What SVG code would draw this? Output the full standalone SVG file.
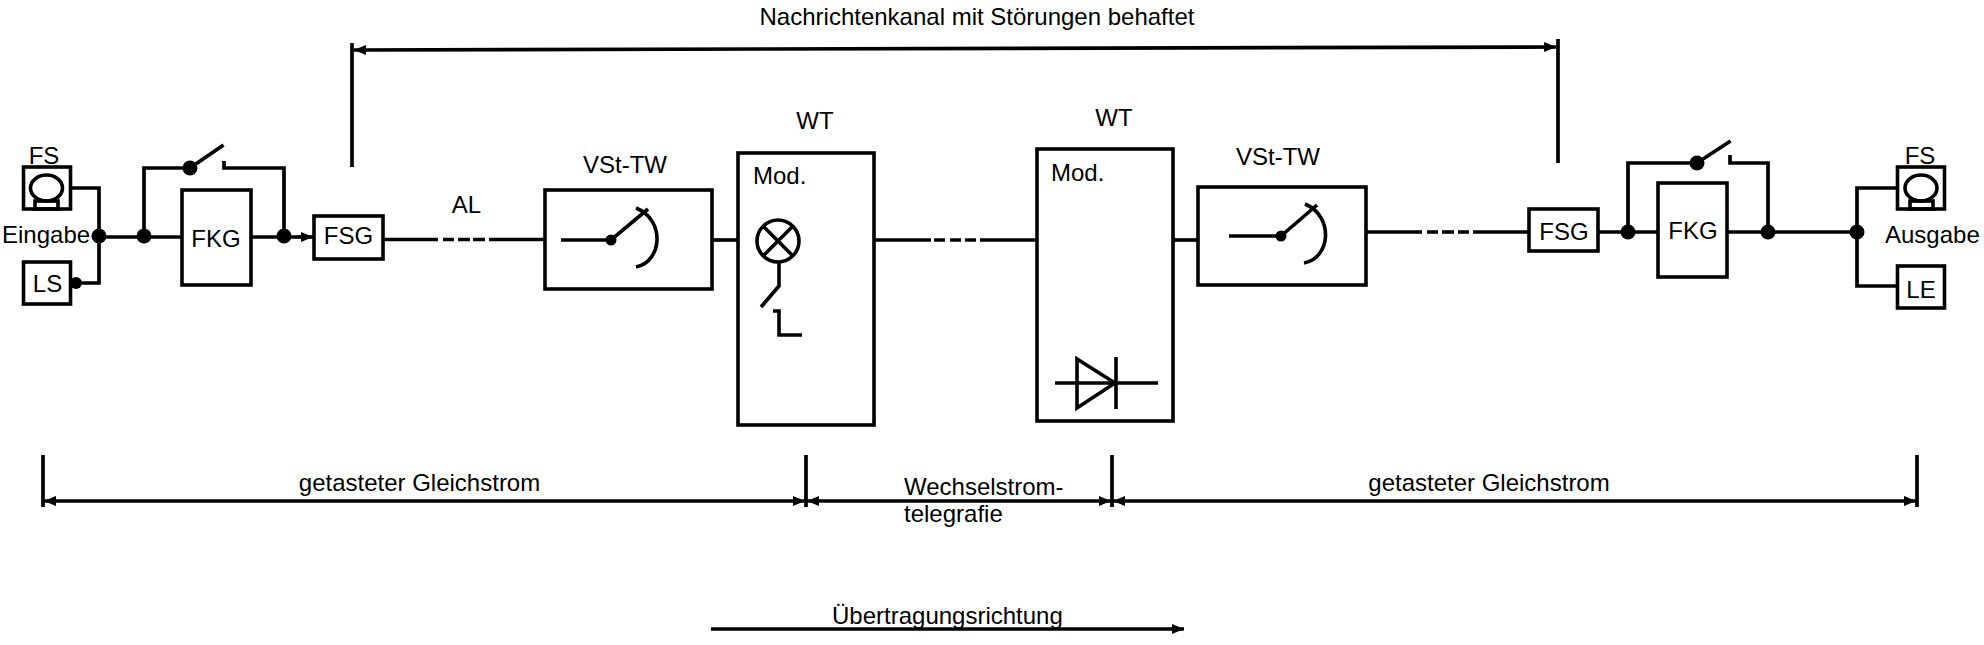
<svg xmlns="http://www.w3.org/2000/svg" width="1984" height="645" viewBox="0 0 1984 645">
<style>
text{font-family:"Liberation Sans",Arial,sans-serif;font-size:24px;fill:#000}
.b{fill:#fff;stroke:#000;stroke-width:3.6}
.s{fill:none;stroke:#000;stroke-width:3.6}
.d{fill:#000}
.c{fill:none;stroke:#000;stroke-width:3.7}
.m{text-anchor:middle}
</style>
<defs>
<marker id="ae" markerUnits="userSpaceOnUse" markerWidth="14" markerHeight="12" refX="12" refY="5" orient="auto"><path d="M0 0L12 5L0 10Z" fill="#000"/></marker>
<marker id="as" markerUnits="userSpaceOnUse" markerWidth="14" markerHeight="12" refX="0" refY="5" orient="auto"><path d="M12 0L0 5L12 10Z" fill="#000"/></marker>
</defs>
<rect width="1984" height="645" fill="#fff"/>
<g id="connectors">
<path class="c" d="M71 188H99V283H76"/>
<path class="c" d="M99 237H182"/>
<path class="c" d="M144 237V168H190"/>
<path class="c" d="M190 168L223.500 145"/>
<path class="c" d="M224 161V168H284V237"/>
<path class="c" d="M251 237H300"/>
<path class="c" d="M298 237H313" marker-end="url(#ae)"/>
<path class="c" d="M383 239.500H438M443 239.500H454M458 239.500H470M473 239.500H485M489 239.500H545"/>
<path class="c" d="M712 240H738"/>
<path class="c" d="M874 240H931M934 240H945M950 240H961M965 240H976M980 240H1037"/>
<path class="c" d="M1173 240H1198"/>
<path class="c" d="M1366 232H1422M1427 232H1438M1442 232H1454M1458 232H1469M1473 232H1529"/>
<path class="c" d="M1598 232H1658"/>
<path class="c" d="M1628 232V163H1697L1730.500 141"/>
<path class="c" d="M1730 155V163H1768V232"/>
<path class="c" d="M1727 232H1857"/>
<path class="c" d="M1897 188H1857V286H1897"/>
<path class="c" d="M352 43V167"/>
<path class="c" d="M1558 39V163"/>
<path class="c" d="M354 50L1556 47" marker-start="url(#as)" marker-end="url(#ae)"/>
<path class="c" d="M43 455V507M806 455V507M1112 455V507M1917 455V507"/>
<path class="c" d="M44 501H805" marker-start="url(#as)" marker-end="url(#ae)"/>
<path class="c" d="M807 501H1111" marker-start="url(#as)" marker-end="url(#ae)"/>
<path class="c" d="M1113 501H1916" marker-start="url(#as)" marker-end="url(#ae)"/>
<path class="c" d="M711 629H1184" marker-end="url(#ae)"/>
<circle class="d" cx="99" cy="236" r="7.500"/><circle class="d" cx="76" cy="283" r="6"/><circle class="d" cx="144" cy="236" r="7.500"/><circle class="d" cx="190" cy="168" r="7.500"/><circle class="d" cx="284" cy="236" r="7.500"/>
<circle class="d" cx="1628" cy="232" r="7.500"/><circle class="d" cx="1697" cy="163" r="7.500"/><circle class="d" cx="1768" cy="232" r="7.500"/><circle class="d" cx="1857" cy="232" r="7.500"/>
</g>
<g id="fs-in"><rect class="b" x="23.500" y="167" width="47" height="42"/><ellipse class="s" cx="46.500" cy="188" rx="16" ry="13"/><rect class="s" x="35" y="201" width="23" height="8"/><text class="m" x="44" y="164">FS</text></g>
<g id="ls-in"><rect class="b" x="23.500" y="262" width="47" height="42"/><text class="m" x="47.500" y="292">LS</text></g>
<g id="eingabe"><text x="2" y="243">Eingabe</text></g>
<g id="fkg-in"><rect class="b" x="182" y="190" width="69" height="95"/><text class="m" x="216" y="247">FKG</text></g>
<g id="fsg-in"><rect class="b" x="314" y="216" width="69" height="43"/><text class="m" x="348.500" y="244">FSG</text></g>
<g id="al"><text class="m" x="466.500" y="213">AL</text></g>
<g id="vst-in"><rect class="b" x="545" y="190" width="167" height="99"/><path class="s" d="M561 240H611L648 209"/><circle class="d" cx="611" cy="240" r="5.500"/><path class="s" d="M636 208C666 220 662 262 636 267"/><text class="m" x="625" y="173">VSt-TW</text></g>
<g id="wt-mod"><rect class="b" x="738" y="153" width="136" height="272"/><circle class="s" cx="778" cy="241" r="21"/><path class="s" d="M763.500 226.500L792.500 255.500M792.500 226.500L763.500 255.500M779 263V286L761 307M773 311H779V335H802"/><text x="753" y="184">Mod.</text><text class="m" x="815" y="129">WT</text></g>
<g id="wt-demod"><rect class="b" x="1037" y="149" width="136" height="272"/><path class="s" d="M1055 383H1158M1077 359V408L1115 383Z"/><path class="s" d="M1116 357V409"/><text x="1051" y="181">Mod.</text><text class="m" x="1114" y="126">WT</text></g>
<g id="vst-out"><rect class="b" x="1198" y="187" width="168" height="98"/><path class="s" d="M1229 236H1281L1317 205"/><circle class="d" cx="1281" cy="236" r="5.500"/><path class="s" d="M1305 204C1334 216 1331 258 1304 263"/><text class="m" x="1278" y="165">VSt-TW</text></g>
<g id="fsg-out"><rect class="b" x="1529" y="209" width="69" height="42"/><text class="m" x="1564" y="240">FSG</text></g>
<g id="fkg-out"><rect class="b" x="1658" y="183" width="69" height="94"/><text class="m" x="1693" y="239">FKG</text></g>
<g id="fs-out"><rect class="b" x="1897.500" y="167" width="47" height="42"/><ellipse class="s" cx="1921" cy="188" rx="16" ry="13"/><rect class="s" x="1910" y="201" width="23" height="8"/><text class="m" x="1920" y="164">FS</text></g>
<g id="le-out"><rect class="b" x="1897.500" y="266" width="47" height="42"/><text class="m" x="1921" y="298">LE</text></g>
<g id="ausgabe"><text x="1885" y="243">Ausgabe</text></g>
<g id="labels">
<text class="m" x="977" y="25">Nachrichtenkanal mit Störungen behaftet</text>
<text class="m" x="419.500" y="491">getasteter Gleichstrom</text>
<text x="904" y="495">Wechselstrom-</text>
<text x="904" y="522">telegrafie</text>
<text class="m" x="1489" y="491">getasteter Gleichstrom</text>
<text x="832" y="624">Übertragungsrichtung</text>
</g>
</svg>
